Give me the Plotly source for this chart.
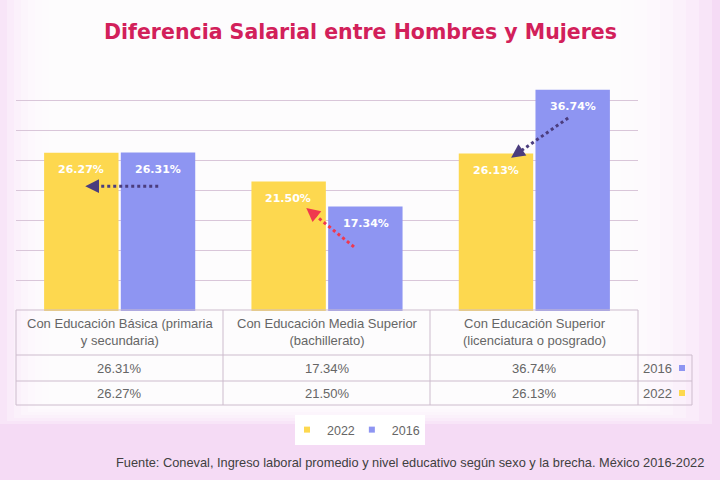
import plotly.graph_objects as go

# ---------------- data ----------------
categories = ["Con Educación Básica (primaria<br>y secundaria)",
              "Con Educación Media Superior<br>(bachillerato)",
              "Con Educación Superior<br>(licenciatura o posgrado)"]
values_2016 = [26.31, 17.34, 36.74]
values_2022 = [26.27, 21.50, 26.13]
series_names = ["2016", "2022"]

title_text = "Diferencia Salarial entre Hombres y Mujeres"
source_text = ("Fuente: Coneval, Ingreso laboral promedio y nivel educativo según sexo y la brecha. "
               "México 2016-2022")

# ---------------- styles ----------------
W, H = 720, 480
YELLOW = "#fdd84f"
BLUE = "#8e95f2"
PURPLE = "#4b3d7e"
RED = "#f0384e"
GRID = "#d9c6d9"
BORDER = "#cdbccd"
TXT = "#666666"
FONT = "Liberation Sans, Arial, sans-serif"

def px(x):
    return x / W

def py(y):
    return 1 - y / H

x_idx = list(range(len(categories)))

fig = go.Figure()
fig.add_trace(go.Bar(x=x_idx, y=values_2022, name=series_names[1], marker_color=YELLOW,
                     marker_line_width=0, hoverinfo="skip", showlegend=False))
fig.add_trace(go.Bar(x=x_idx, y=values_2016, name=series_names[0], marker_color=BLUE,
                     marker_line_width=0, hoverinfo="skip", showlegend=False))
# legend entries (small square keys)
for name, c in ((series_names[1], YELLOW), (series_names[0], BLUE)):
    fig.add_trace(go.Scatter(x=[None], y=[None], mode="markers", name=name,
                             marker=dict(symbol="square", size=6, color=c)))

OFF = 0.186
annotations = []
shapes = []

# data labels inside bars (top)
for i in x_idx:
    for off, v in ((-OFF, values_2022[i]), (OFF, values_2016[i])):
        annotations.append(dict(x=i + off, y=v, xref="x", yref="y", text=f"<b>{v:.2f}%</b>",
                                showarrow=False, yshift=-17, yanchor="middle",
                                font=dict(family="DejaVu Sans, Verdana", size=11, color="white")))

# dotted arrows from 2016 bar to 2022 bar
arrows = [
    (0 + OFF, values_2016[0] - 5.6, 0 - OFF + 0.02, values_2016[0] - 5.6, PURPLE),
    (1 + 0.13, values_2016[1] - 6.7, 1 - 0.10, values_2022[1] - 4.4, RED),
    (2 + 0.163, values_2016[2] - 4.7, 2 - 0.112, values_2022[2] - 0.7, PURPLE),
]
for x0, y0, x1, y1, c in arrows:
    t = 0.86
    xm, ym = x0 + (x1 - x0) * t, y0 + (y1 - y0) * t
    shapes.append(dict(type="line", xref="x", yref="y", x0=x0, y0=y0, x1=xm, y1=ym,
                       line=dict(color=c, width=3, dash="dot")))
    annotations.append(dict(x=x1, y=y1, ax=xm, ay=ym, xref="x", yref="y", axref="x", ayref="y",
                            text="", showarrow=True, arrowhead=2, arrowsize=1.1,
                            arrowwidth=2.5, arrowcolor=c))

# background soft white panel over pink
for i in range(8):
    shapes.append(dict(type="rect", xref="paper", yref="paper", layer="below",
                       x0=px(i * 7), x1=px(720 - (8 + i * 13)),
                       y0=py(424 - i * 3), y1=py(-20),
                       fillcolor="white", opacity=0.28, line_width=0))

# table
col_x = [16, 223, 430, 638]
row_y = [310, 355, 381, 405]
right_x = 692
lc = dict(color=BORDER, width=1)
shapes.append(dict(type="line", xref="paper", yref="paper", x0=px(16), x1=px(638),
                   y0=py(row_y[0]), y1=py(row_y[0]), line=lc))
for yy in row_y[1:]:
    shapes.append(dict(type="line", xref="paper", yref="paper", x0=px(16), x1=px(right_x),
                       y0=py(yy), y1=py(yy), line=lc))
for xx in col_x:
    shapes.append(dict(type="line", xref="paper", yref="paper", x0=px(xx), x1=px(xx),
                       y0=py(row_y[0]), y1=py(row_y[3]), line=lc))
shapes.append(dict(type="line", xref="paper", yref="paper", x0=px(right_x), x1=px(right_x),
                   y0=py(row_y[1]), y1=py(row_y[3]), line=lc))

tfont = dict(family=FONT, size=13, color=TXT)
for i, cat in enumerate(categories):
    annotations.append(dict(x=i, y=py(332), xref="x", yref="paper", text=cat, showarrow=False,
                            yanchor="middle", font=tfont, align="center"))
    annotations.append(dict(x=i, y=py(368), xref="x", yref="paper", text=f"{values_2016[i]:.2f}%",
                            yanchor="middle", showarrow=False, font=tfont))
    annotations.append(dict(x=i, y=py(393), xref="x", yref="paper", text=f"{values_2022[i]:.2f}%",
                            yanchor="middle", showarrow=False, font=tfont))

for name, yc, c in ((series_names[0], 368, BLUE), (series_names[1], 393, YELLOW)):
    annotations.append(dict(x=px(641), y=py(yc), xref="paper", yref="paper", text=name,
                            xanchor="left", yanchor="middle", showarrow=False, font=tfont))
    shapes.append(dict(type="rect", xref="paper", yref="paper", x0=px(679), x1=px(685),
                       y0=py(yc + 3), y1=py(yc - 3), fillcolor=c, line_width=0))

# title & source
annotations.append(dict(x=0.5, y=py(32), xref="paper", yref="paper", text=f"<b>{title_text}</b>",
                        showarrow=False, yanchor="middle",
                        font=dict(family="DejaVu Sans, Verdana", size=20.5, color="#d2205a")))
annotations.append(dict(x=px(706), y=py(462), xref="paper", yref="paper", text=source_text,
                        xanchor="right", yanchor="middle", showarrow=False,
                        font=dict(family=FONT, size=12.8, color="#404040")))

fig.update_layout(
    width=W, height=H, margin=dict(l=0, r=0, t=0, b=0),
    paper_bgcolor="#f5dbf5", plot_bgcolor="rgba(0,0,0,0)",
    barmode="group", bargap=0.26, bargroupgap=0.03,
    showlegend=True,
    legend=dict(orientation="h", x=0.5, xanchor="center", y=py(415), yanchor="top",
                bgcolor="white", font=dict(family=FONT, size=12.5, color=TXT),
                itemwidth=30, traceorder="normal", borderwidth=0,
                tracegroupgap=0, indentation=-8),
    xaxis=dict(domain=[px(16), px(638)], range=[-0.5, 2.5], showticklabels=False,
               showgrid=False, zeroline=False, fixedrange=True),
    yaxis=dict(domain=[py(311), py(70)], range=[0, 40], dtick=5, showticklabels=False,
               showgrid=True, gridcolor=GRID, gridwidth=1, zeroline=False),
    shapes=shapes, annotations=annotations,
)

fig.write_html("out.html")
